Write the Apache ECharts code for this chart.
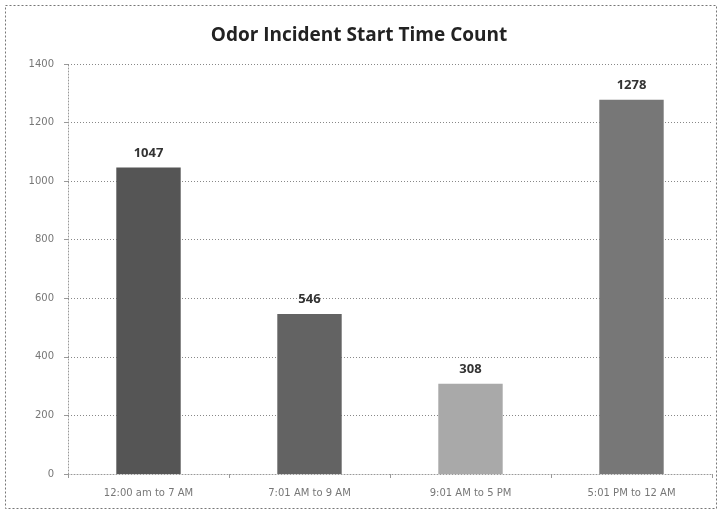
<!DOCTYPE html>
<html><head><meta charset="utf-8">
<script src="https://cdn.jsdelivr.net/npm/echarts@6/dist/echarts.min.js"></script>
<style>html,body{margin:0;padding:0;background:#fff}#c{width:718px;height:510px}</style>
</head><body><div id="c"></div>
<script>
const categories = ['12:00 am to 7 AM', '7:01 AM to 9 AM', '9:01 AM to 5 PM', '5:01 PM to 12 AM'];
const counts = [1047, 546, 308, 1278];
const barColors = ['#555555', '#636363', '#a9a9a9', '#777777'];
const yTicks = [0, 200, 400, 600, 800, 1000, 1200, 1400];

const chart = echarts.init(document.getElementById('c'), null, {renderer: 'canvas'});
chart.setOption({
  animation: false,
  backgroundColor: '#fff',
  title: {
    text: 'Odor Incident Start Time Count',
    left: 'center', top: 21,
    textStyle: {fontFamily: 'Open Sans', fontWeight: 'bold', fontSize: 19, color: '#222'}
  },
  graphic: [{
    type: 'rect', left: 3, top: 3, z: 100,
    shape: {width: 711, height: 503},
    style: {fill: 'none', stroke: '#777', lineWidth: 1, lineDash: [2, 2]}
  }],
  grid: {left: 68, right: 6, top: 64, bottom: 36, containLabel: false},
  xAxis: {
    type: 'category', data: categories,
    axisLine: {lineStyle: {color: '#999', type: [1, 2]}},
    axisTick: {show: true, length: 4, lineStyle: {color: '#999'}},
    axisLabel: {color: '#777', fontFamily: 'DejaVu Sans', fontSize: 10, margin: 14}
  },
  yAxis: {
    type: 'value', min: 0, max: 1400, interval: 200,
    axisLine: {show: true, lineStyle: {color: '#999', type: [1, 2]}},
    axisTick: {show: true, length: 4, lineStyle: {color: '#999'}},
    axisLabel: {color: '#777', fontFamily: 'DejaVu Sans', fontSize: 10, margin: 14,
      formatter: v => yTicks.includes(v) ? String(v) : ''},
    splitLine: {lineStyle: {color: '#888', type: [1, 2]}}
  },
  series: [{
    type: 'bar', barWidth: '40%',
    data: counts.map((v, i) => ({value: v, itemStyle: {color: barColors[i]}})),
    label: {show: true, position: 'top', distance: 8,
      fontFamily: 'Open Sans', fontWeight: 'bold', fontSize: 13, color: '#333'}
  }]
});
</script></body></html>
